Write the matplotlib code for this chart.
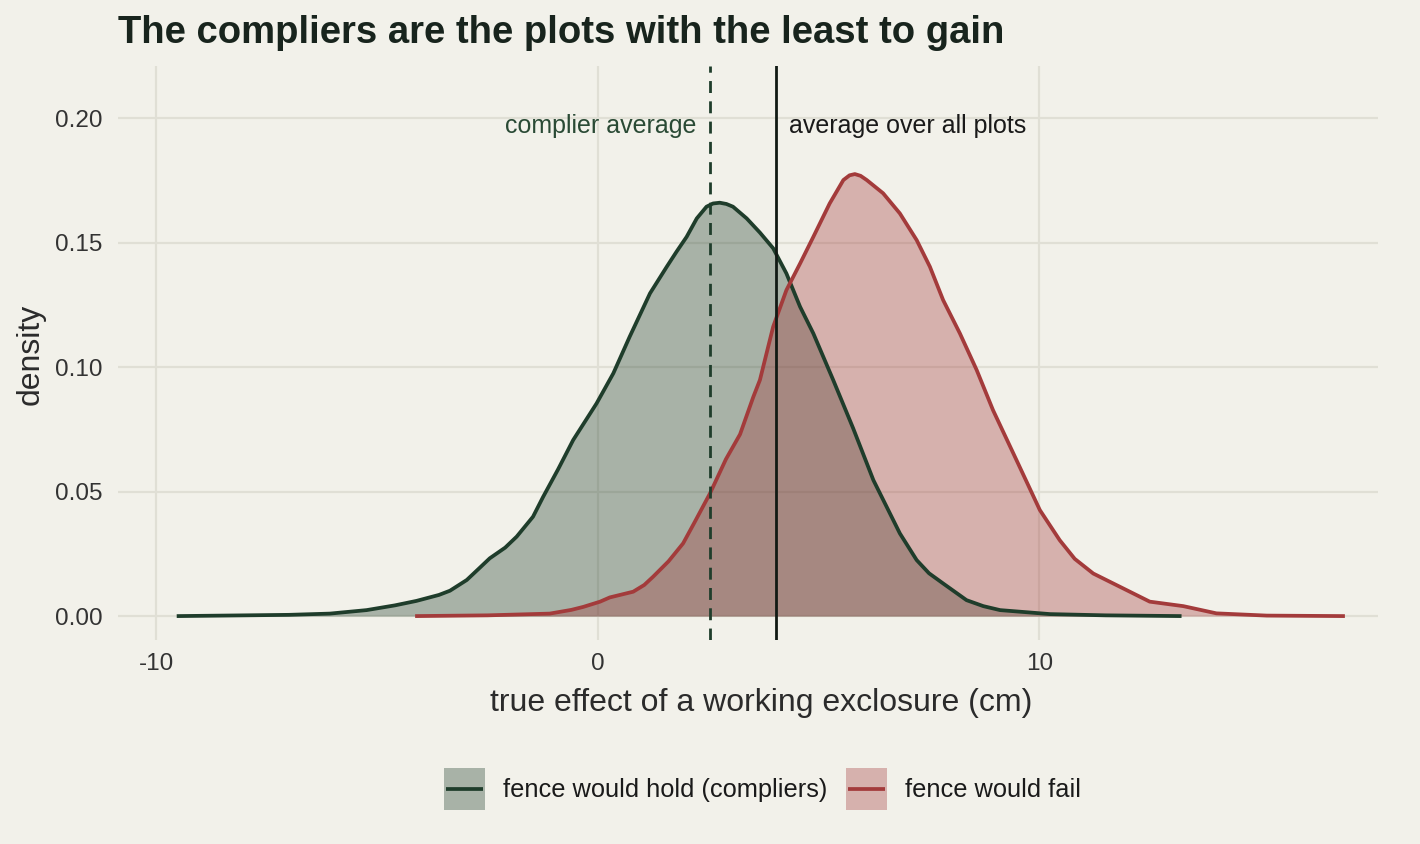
import matplotlib
matplotlib.use("Agg")
import matplotlib.pyplot as plt
from matplotlib.patches import Rectangle
from matplotlib.lines import Line2D

plt.rcParams['font.family'] = ['Liberation Sans', 'DejaVu Sans']

# ---- data ----
hold_x = [-9.54, -8.0, -7.0, -6.07, -5.24, -4.6, -4.11, -3.6, -3.35, -2.97, -2.7, -2.45,
          -2.1, -1.84, -1.47, -1.24, -0.9, -0.56, -0.03, 0.35, 0.72, 1.18, 1.56, 1.78,
          2.01, 2.24, 2.46, 2.61, 2.76, 2.91, 3.06, 3.37, 3.67, 3.97, 4.27, 4.58, 4.88,
          5.33, 5.78, 6.24, 6.84, 7.22, 7.5, 7.82, 8.35, 8.73, 9.11, 10.24, 11.5, 13.22]
hold_y = [0.0, 0.0003, 0.0005, 0.0010, 0.0024, 0.0043, 0.0061, 0.0085, 0.0102, 0.0145,
          0.019, 0.0232, 0.0275, 0.0319, 0.0399, 0.0479, 0.059, 0.0707, 0.0854, 0.0975,
          0.1122, 0.1296, 0.1403, 0.1463, 0.1523, 0.1597, 0.1644, 0.1657, 0.1660, 0.1655,
          0.1644, 0.1597, 0.1540, 0.1477, 0.1376, 0.1242, 0.1135, 0.0948, 0.0755, 0.0546,
          0.0332, 0.0225, 0.0172, 0.0131, 0.0064, 0.0040, 0.0024, 0.0008, 0.0003, 0.0]

fail_x = [-4.14, -2.5, -1.09, -0.6, -0.33, 0.05, 0.27, 0.80, 1.05, 1.25, 1.6, 1.93, 2.2,
          2.54, 2.9, 3.22, 3.52, 3.67, 3.97, 4.27, 4.58, 4.88, 5.25, 5.56, 5.70, 5.82,
          5.95, 6.09, 6.46, 6.84, 7.22, 7.52, 7.82, 8.20, 8.58, 8.95, 9.48, 10.01, 10.46,
          10.8, 11.22, 11.90, 12.50, 13.26, 14.01, 15.15, 16.92]
fail_y = [0.0, 0.0003, 0.001, 0.0025, 0.0037, 0.0058, 0.0075, 0.0098, 0.0125, 0.0158,
          0.022, 0.0292, 0.038, 0.0493, 0.063, 0.073, 0.0880, 0.0948, 0.1162, 0.1309,
          0.1416, 0.1523, 0.1657, 0.1751, 0.1770, 0.1775, 0.1768, 0.1751, 0.1698, 0.1617,
          0.1510, 0.1403, 0.1269, 0.1135, 0.0988, 0.0827, 0.0627, 0.0426, 0.0305, 0.023,
          0.0171, 0.0111, 0.0058, 0.0040, 0.0011, 0.0002, 0.0]

complier_avg = 2.54
overall_avg = 4.03

series_labels = ["fence would hold (compliers)", "fence would fail"]
x_ticks = [-10, 0, 10]
y_ticks = [0.00, 0.05, 0.10, 0.15, 0.20]

# ---- style ----
bg = "#f2f1ea"
grid_c = "#e0dfd5"
green = "#1f3d2b"
red = "#a33b3b"
LW = 2.7


class KeyHandler:
    """Filled square key with a horizontal line through its middle (ggplot style)."""
    def __init__(self, color):
        self.color = color

    def legend_artist(self, legend, orig_handle, fontsize, handlebox):
        x0, y0 = -handlebox.xdescent, -handlebox.ydescent
        w, h = handlebox.width, handlebox.height
        tr = handlebox.get_transform()
        rect = Rectangle((x0, y0), w, h, facecolor=self.color, alpha=0.35, lw=0, transform=tr)
        inset = 1.5
        line = Line2D([x0 + inset, x0 + w - inset], [y0 + h / 2, y0 + h / 2],
                      color=self.color, lw=LW, solid_capstyle='butt', transform=tr)
        handlebox.add_artist(rect)
        handlebox.add_artist(line)
        return rect


W, H = 1420, 844
fig = plt.figure(figsize=(14.2, 8.44), dpi=100, facecolor=bg)
ax = fig.add_axes([118/W, 1-640/H, (1378-118)/W, (640-66)/H])
ax.set_facecolor(bg)

ax.fill_between(hold_x, 0, hold_y, color=green, alpha=0.35, lw=0, zorder=2)
ax.fill_between(fail_x, 0, fail_y, color=red, alpha=0.35, lw=0, zorder=3)
ax.plot(hold_x, hold_y, color=green, lw=LW, zorder=4, solid_joinstyle='round',
        solid_capstyle='butt')
ax.plot(fail_x, fail_y, color=red, lw=LW, zorder=5, solid_joinstyle='round',
        solid_capstyle='butt')

ax.axvline(complier_avg, color=green, lw=2.0, ls=(0, (4.3, 3.0)), zorder=6)
ax.axvline(overall_avg, color="#111a14", lw=2.0, zorder=6)

ax.text(2.24, 0.197, "complier average", color="#2a4a35",
        fontsize=18, ha='right', va='center')
ax.text(4.33, 0.197, "average over all plots", color="#1a1a1a",
        fontsize=18, ha='left', va='center')

ax.set_xlim(-10.87, 17.67)
ax.set_ylim(-0.0096, 0.2209)
ax.set_xticks(x_ticks)
ax.set_xticklabels([str(t) for t in x_ticks])
ax.set_yticks(y_ticks)
ax.set_yticklabels([f"{t:.2f}" for t in y_ticks])
ax.grid(True, color=grid_c, lw=1.6, zorder=0)
ax.set_axisbelow(True)
for s in ax.spines.values():
    s.set_visible(False)
ax.tick_params(length=0, labelsize=17.5, colors="#333333")
ax.tick_params(axis='x', pad=9)
ax.tick_params(axis='y', pad=11)

fig.text(761/W, 1-703/H, "true effect of a working exclosure (cm)", fontsize=23,
         color="#2b2b2b", ha='center', va='center')
fig.text(31/W, 1-354/H, "density", fontsize=23, color="#2b2b2b",
         ha='center', va='center', rotation=90)

fig.text(118/W, 1-43/H, "The compliers are the plots with the least to gain",
         fontsize=27.5, fontweight='bold', color="#18241d", ha='left', va='baseline')

key_hold = Rectangle((0, 0), 1, 1)
key_fail = Rectangle((0, 0), 1, 1)
leg = fig.legend([key_hold, key_fail], series_labels,
                 handler_map={key_hold: KeyHandler(green), key_fail: KeyHandler(red)},
                 loc='center', bbox_to_anchor=(762.5/W, 1-789/H), ncol=2, frameon=False,
                 fontsize=18.3, handlelength=1.61, handleheight=2.17, handletextpad=0.71,
                 columnspacing=0.75)
for t in leg.get_texts():
    t.set_color("#1a1a1a")

fig.savefig("out.png", dpi=100, facecolor=bg)
